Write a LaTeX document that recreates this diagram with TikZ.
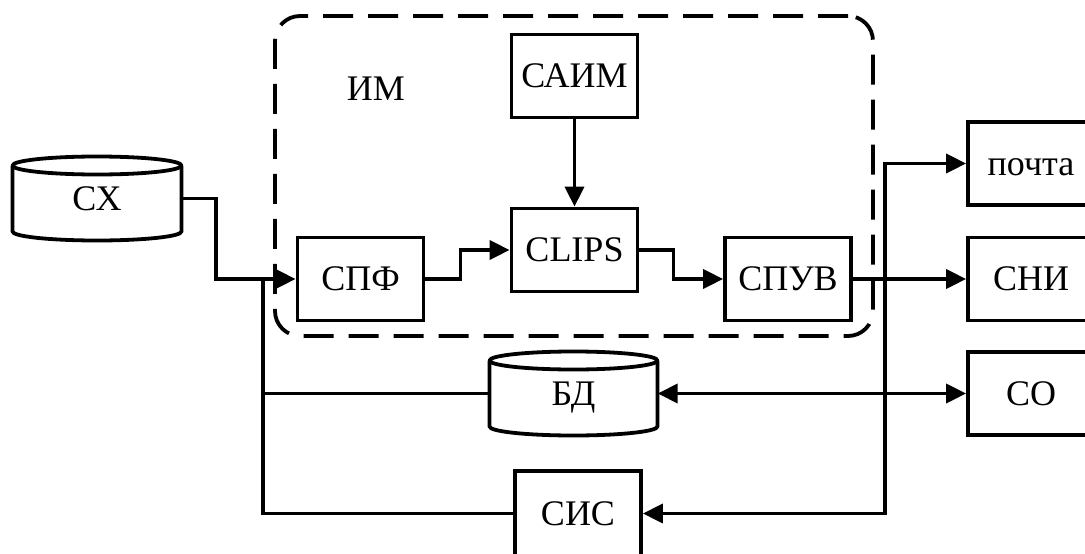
\documentclass[tikz,border=0pt]{standalone}
\usepackage{fontspec}
\setmainfont{Liberation Serif}
\usetikzlibrary{arrows.meta}
\newcommand\cylinderat[5]{%
  \pgfmathsetmacro\cylXa{#1}\pgfmathsetmacro\cylXb{#2}%
  \pgfmathsetmacro\cylXm{(#1+#2)/2}%
  \pgfmathsetmacro\cylKx{(#2-#1)/2*0.5523}%
  \pgfmathsetmacro\cylKy{#5*0.5523}%
  \pgfmathsetmacro\cylT{#3}%
  \pgfmathsetmacro\cylU{#3+#5}%
  \pgfmathsetmacro\cylV{#3+2*#5}%
  \pgfmathsetmacro\cylL{#4-#5}%
  \pgfmathsetmacro\cylW{#4}%
  \draw[shapeline] (\cylXa,\cylU) .. controls (\cylXa,\cylU-\cylKy) and (\cylXm-\cylKx,\cylT) .. (\cylXm,\cylT)
     .. controls (\cylXm+\cylKx,\cylT) and (\cylXb,\cylU-\cylKy) .. (\cylXb,\cylU)
     .. controls (\cylXb,\cylU+\cylKy) and (\cylXm+\cylKx,\cylV) .. (\cylXm,\cylV)
     .. controls (\cylXm-\cylKx,\cylV) and (\cylXa,\cylU+\cylKy) .. (\cylXa,\cylU) -- cycle;
  \draw[shapeline] (\cylXa,\cylU) -- (\cylXa,\cylL)
     .. controls (\cylXa,\cylL+\cylKy) and (\cylXm-\cylKx,\cylW) .. (\cylXm,\cylW)
     .. controls (\cylXm+\cylKx,\cylW) and (\cylXb,\cylL+\cylKy) .. (\cylXb,\cylL) -- (\cylXb,\cylU);
}
\begin{document}
\begin{tikzpicture}[x=1pt,y=-1pt,
  shapeline/.style={line width=3.8pt, line join=round},
  txt/.style={font=\fontsize{36}{42}\selectfont, text height=23.8pt, text depth=0pt},
  blk/.style={txt, draw, line width=3.8pt, minimum width=126pt, minimum height=83pt, inner sep=0pt},
  cylnode/.style={txt, inner sep=0pt, minimum height=84pt},
  imframe/.style={draw, line width=3.8pt, dash pattern=on 30pt off 15pt, rounded corners=25pt, inner sep=0pt},
  wire/.style={line width=3.8pt},
  conn/.style={line width=3.8pt, -{Triangle[length=20pt,width=19pt]}},
  bidir/.style={line width=3.8pt, {Triangle[length=20pt,width=19pt]}-{Triangle[length=20pt,width=19pt]}}]
\useasboundingbox (0,0) rectangle (1085,554);

\node[imframe, minimum width=598pt, minimum height=320pt] (imbox) at (574,176) {};
\node[txt] (imlabel) at (376,88.5) {ИМ};

\node[blk] (saim) at (574.5,76) {САИМ};
\node[blk] (clips) at (574.5,250) {CLIPS};
\node[blk] (spf) at (360.5,279) {СПФ};
\node[blk] (spuv) at (788,279) {СПУВ};
\node[blk] (pochta) at (1031,163.5) {почта};
\node[blk] (sni) at (1031,279) {СНИ};
\node[blk] (co) at (1031,393.5) {СО};
\node[blk, minimum height=85pt] (sis) at (578,513.5) {СИС};

\node[cylnode, minimum width=169pt] (cx) at (97,198.5) {СХ};
\node[cylnode, minimum width=168pt] (bd) at (573.5,393.5) {БД};
\cylinderat{12.5}{181.5}{156.5}{240.5}{9}
\cylinderat{489.5}{657.5}{351.5}{435.5}{9}

\draw[conn] (cx.east) -| (216,279) -- (spf.west);
\coordinate (jl) at (263,279);
\draw[wire] (jl) |- (sis.west);
\draw[wire] (jl |- bd.west) -- (bd.west);
\draw[conn] (spf.east) -- ++(35,0) |- (clips.west);
\draw[conn] (saim.south) -- (clips.north);
\draw[conn] (clips.east) -- ++(34,0) |- (spuv.west);
\draw[conn] (spuv.east) -- (sni.west);
\coordinate (jr) at (885,279);
\draw[conn] (jr) |- (pochta.west);
\draw[conn] (jr) |- (sis.east);
\draw[bidir] (bd.east) -- (co.west);
\end{tikzpicture}
\end{document}
